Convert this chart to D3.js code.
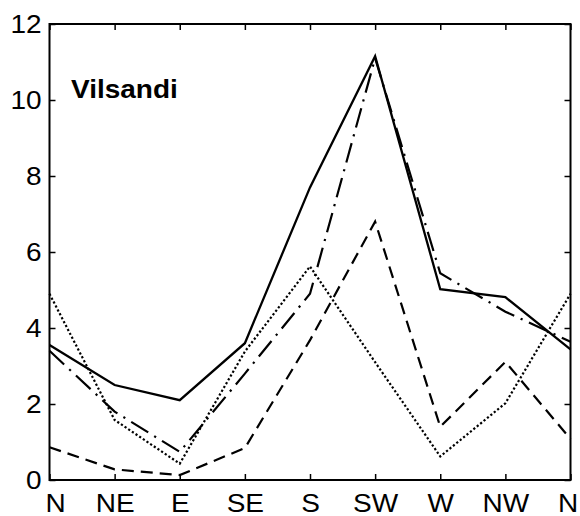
<!DOCTYPE html>
<html>
<head>
<meta charset="utf-8">
<script src="https://cdn.jsdelivr.net/npm/d3@7"></script>
<style>
  body { margin: 0; background: #fff; }
  text { font-family: "Liberation Sans", Arial, sans-serif; }
</style>
</head>
<body>
<div id="chart"></div>
<script>
const directions = ["N", "NE", "E", "SE", "S", "SW", "W", "NW", "N"];
const yTicks = [0, 2, 4, 6, 8, 10, 12];
const station = "Vilsandi";

// four series
const solid   = [3.55, 2.5, 2.1, 3.6, 7.7, 11.15, 5.02, 4.81, 3.44];
const dashDot = [3.4, 1.8, 0.74, 2.8, 4.9, 11.1, 5.44, 4.43, 3.64];
const dashed  = [0.86, 0.28, 0.13, 0.84, 3.68, 6.8, 1.4, 3.11, 1.08];
const dotted  = [4.9, 1.58, 0.43, 3.38, 5.62, 3.1, 0.62, 2.02, 4.9];

const W = 580, H = 516;
const mLeft = 49.5, mRight = 570.5, mTop = 24, mBottom = 480;
const stretch = "scale(1.12,1)";  // the original's lettering is a bit wide

const svg = d3.select("#chart").append("svg")
  .attr("width", W)
  .attr("height", H);

svg.append("rect")
  .attr("width", W)
  .attr("height", H)
  .attr("fill", "#fff");

const x = d3.scaleLinear().domain([0, directions.length - 1]).range([mLeft, mRight]);
const y = d3.scaleLinear().domain([0, 12]).range([mBottom, mTop]);

const idx = d3.range(directions.length);

// axes, MATLAB style with ticks pointing inward
const axisFont = (g) => {
  g.select(".domain").remove();
  g.selectAll("line").attr("stroke", "#000").attr("stroke-width", 1.5);
  g.selectAll("text")
    .attr("fill", "#000")
    .attr("transform", stretch)
    .style("font-size", "25px");
};

svg.append("g")
  .attr("transform", `translate(${mLeft},0)`)
  .call(d3.axisLeft(y).tickValues(yTicks).tickFormat(d3.format("d")).tickSize(-6).tickPadding(7))
  .call(axisFont);

svg.append("g")
  .attr("transform", `translate(${mRight},0)`)
  .call(d3.axisRight(y).tickValues(yTicks).tickFormat("").tickSize(-6))
  .call(axisFont);

const xAxis = svg.append("g")
  .attr("transform", `translate(0,${mBottom})`)
  .call(d3.axisBottom(x).tickValues(idx).tickFormat(i => directions[i]).tickSize(-6).tickPadding(14))
  .call(axisFont);

// end labels sit a little inside, as in the original
xAxis.selectAll(".tick text")
  .attr("dx", i => i === 0 ? 5 : (i === directions.length - 1 ? -2.5 : 0));

svg.append("g")
  .attr("transform", `translate(0,${mTop})`)
  .call(d3.axisTop(x).tickValues(idx).tickFormat("").tickSize(-6))
  .call(axisFont);

// frame
svg.append("rect")
  .attr("x", mLeft)
  .attr("y", mTop)
  .attr("width", mRight - mLeft)
  .attr("height", mBottom - mTop)
  .attr("fill", "none")
  .attr("stroke", "#000")
  .attr("stroke-width", 2);

const line = d3.line()
  .x((d, i) => x(i))
  .y(d => y(d));

const drawSeries = (values, dash, width) => {
  svg.append("path")
    .datum(values)
    .attr("fill", "none")
    .attr("stroke", "#000")
    .attr("stroke-width", width)
    .attr("stroke-linejoin", "miter")
    .style("stroke-dasharray", dash)
    .attr("d", line);
};

drawSeries(dotted, "2.2, 2.2", 2.2);
drawSeries(dashed, "12, 7", 2.2);
drawSeries(dashDot, "20, 7, 2.2, 7", 2.2);
drawSeries(solid, null, 2.3);

// station label
svg.append("g")
  .attr("transform", "translate(71,97.5)")
  .append("text")
  .attr("transform", stretch)
  .attr("fill", "#000")
  .style("font-size", "25px")
  .style("font-weight", "bold")
  .text(station);
</script>
</body>
</html>
